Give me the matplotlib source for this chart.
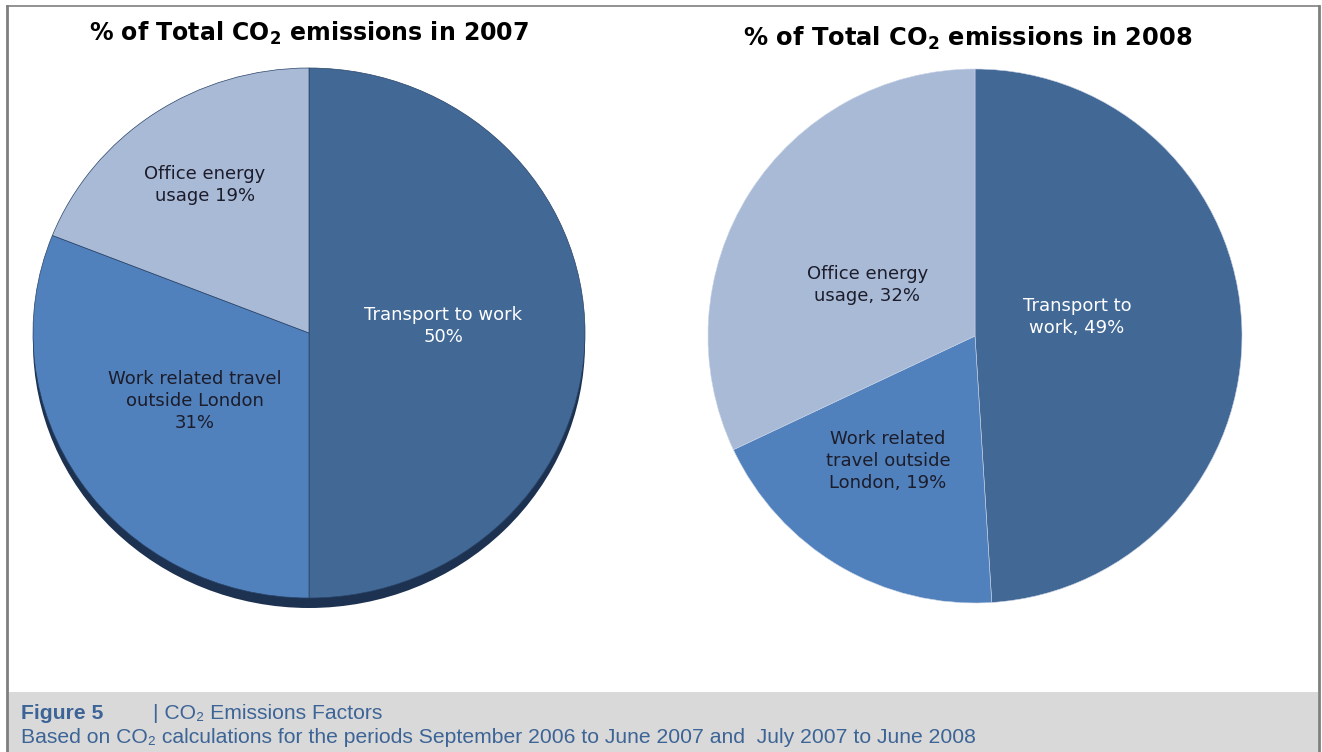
import matplotlib
matplotlib.use("Agg")
import matplotlib.pyplot as plt
from matplotlib.patches import Ellipse, Rectangle

# ---- data ----
categories_2007 = ["Transport to work", "Work related travel outside London", "Office energy usage"]
values_2007 = [50, 31, 19]
labels_2007 = ["Transport to work\n50%", "Work related travel\noutside London\n31%", "Office energy\nusage 19%"]

categories_2008 = ["Transport to work", "Work related travel outside London", "Office energy usage"]
values_2008 = [49, 19, 32]
labels_2008 = ["Transport to\nwork, 49%", "Work related\ntravel outside\nLondon, 19%", "Office energy\nusage, 32%"]

title_2007 = "% of Total CO$_\\mathbf{2}$ emissions in 2007"
title_2008 = "% of Total CO$_\\mathbf{2}$ emissions in 2008"
caption_head = "Figure 5"
caption_title = "| CO\u2082 Emissions Factors"
caption_text = "Based on CO\u2082 calculations for the periods September 2006 to June 2007 and  July 2007 to June 2008"

colors = ["#426896", "#5081BC", "#A9BAD7"]
text_colors = ["white", "#1c1c2a", "#1c1c2a"]

W, H = 1322, 752
fig = plt.figure(figsize=(W / 100, H / 100), dpi=100)
fig.patch.set_facecolor("white")


def px_axes(x0, y0, x1, y1):
    return fig.add_axes([x0 / W, 1 - y1 / H, (x1 - x0) / W, (y1 - y0) / H])


# caption band and border
bg = fig.add_axes([0, 0, 1, 1])
bg.set_xlim(0, W)
bg.set_ylim(H, 0)
bg.axis("off")
bg.add_patch(Rectangle((8, 692), 1310, 62, facecolor="#D9D9D9", edgecolor="none"))
bg.plot([7, 7], [6, 752], color="#7F7F7F", lw=2)
bg.plot([1319, 1319], [6, 752], color="#7F7F7F", lw=2)
bg.plot([7, 1319], [6, 6], color="#7F7F7F", lw=1.2)

# ---- 2007 pie (slightly elliptical with shadow) ----
shadow_px = 10
ry = 265
ax1 = px_axes(33, 68, 585, 598 + shadow_px)
ax1.add_patch(Ellipse((0, -shadow_px / ry), 2, 2, facecolor="#1D3150", edgecolor="none", zorder=0))
wedges, _ = ax1.pie(values_2007, colors=colors, startangle=90, counterclock=False,
                    wedgeprops=dict(edgecolor="#2a4468", linewidth=0.5))
for w in wedges:
    w.set_zorder(1)
ax1.set_aspect("auto")
ax1.set_xlim(-1, 1)
ax1.set_ylim(-1 - shadow_px / ry, 1)
ax1.axis("off")
pos_2007 = [(0.486, 0.026), (-0.413, -0.257), (-0.377, 0.558)]
for lab, (x, y), c in zip(labels_2007, pos_2007, text_colors):
    ax1.text(x, y, lab, ha="center", va="center", color=c, fontsize=13,
             family="DejaVu Sans", linespacing=1.3, zorder=5)

# ---- 2008 pie ----
ax2 = px_axes(708, 69, 1242, 603)
wedges2, _ = ax2.pie(values_2008, colors=colors, startangle=90, counterclock=False,
                     wedgeprops=dict(edgecolor="#c8d3e6", linewidth=0.4))
ax2.set_aspect("auto")
ax2.set_xlim(-1, 1)
ax2.set_ylim(-1, 1)
ax2.axis("off")
pos_2008 = [(0.382, 0.071), (-0.326, -0.468), (-0.404, 0.191)]
for lab, (x, y), c in zip(labels_2008, pos_2008, text_colors):
    ax2.text(x, y, lab, ha="center", va="center", color=c, fontsize=13,
             family="DejaVu Sans", linespacing=1.3, zorder=5)

# titles
bg.text(309, 33, title_2007, ha="center", va="center", fontsize=17, fontweight="bold",
        family="DejaVu Sans", color="black")
bg.text(968, 38, title_2008, ha="center", va="center", fontsize=17.4, fontweight="bold",
        family="DejaVu Sans", color="black")

# caption
cap_color = "#3D6496"
fam = ["Liberation Sans", "DejaVu Sans"]
bg.text(21, 719, caption_head, ha="left", va="baseline", fontsize=15.2, fontweight="bold",
        family=fam, color=cap_color)
bg.text(153, 719, caption_title, ha="left", va="baseline", fontsize=15.2,
        family=fam, color=cap_color)
bg.text(21, 743, caption_text, ha="left", va="baseline", fontsize=15.2, family=fam, color=cap_color)

fig.savefig("out.png", dpi=100)
